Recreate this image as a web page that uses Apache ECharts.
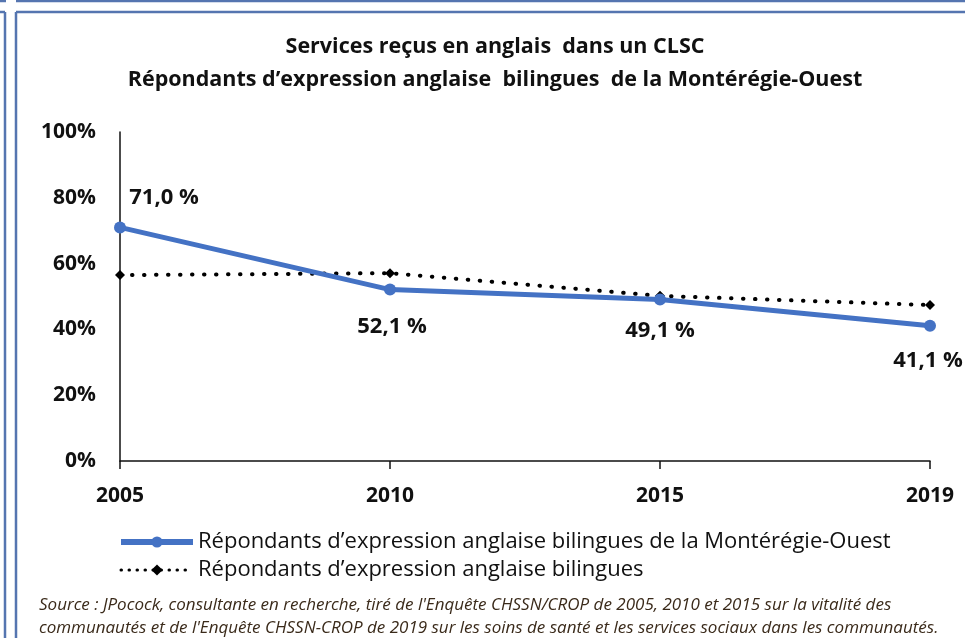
<!DOCTYPE html>
<html>
<head>
<meta charset="utf-8">
<script src="https://cdn.jsdelivr.net/npm/echarts@6/dist/echarts.min.js"></script>
<style>
html,body{margin:0;padding:0;background:#fff;}
#chart{width:965px;height:638px;}
</style>
</head>
<body>
<div id="chart"></div>
<script>
var categories = ['2005', '2010', '2015', '2019'];
var monteregieValues = [71.0, 52.1, 49.1, 41.1];
var bilingualValues = [56.5, 57.1, 50.2, 47.4];
var yTickLabels = ['0%', '20%', '40%', '60%', '80%', '100%'];
var dataLabels = ['71,0 %', '52,1 %', '49,1 %', '41,1 %'];
var seriesNames = [
  'Répondants d\u2019expression anglaise bilingues de la Montérégie-Ouest',
  'Répondants d\u2019expression anglaise bilingues'
];
var titleLines = [
  'Services reçus en anglais  dans un CLSC',
  'Répondants d\u2019expression anglaise  bilingues  de la Montérégie-Ouest'
];
var sourceLines = [
  'Source : JPocock, consultante en recherche, tiré de l\'Enquête CHSSN/CROP de 2005, 2010 et 2015 sur la vitalité des',
  'communautés et de l\'Enquête CHSSN-CROP de 2019 sur les soins de santé et les services sociaux dans les communautés.'
];

var FONT = '"Open Sans", Lato, sans-serif';
var labelOffsets = [[44, -8], [2, 15], [0, 9], [-2, 13]];
var labelPositions = ['top', 'bottom', 'bottom', 'bottom'];

var chart = echarts.init(document.getElementById('chart'));
var frameColor = '#5575b0';

chart.setOption({
  backgroundColor: '#ffffff',
  animation: false,
  textStyle: { fontFamily: FONT },
  title: [
    {
      text: titleLines.join('\n'),
      left: 490, top: 25, textAlign: 'center',
      textStyle: { fontFamily: FONT, fontSize: 21.5, fontWeight: 'bold', color: '#111', lineHeight: 33 }
    },
    {
      text: sourceLines.join('\n'),
      left: 34, top: 589,
      textStyle: { fontFamily: FONT, fontSize: 17, fontStyle: 'italic', fontWeight: 'normal', color: '#3a2a1a', lineHeight: 23 }
    }
  ],
  legend: {
    orient: 'vertical',
    left: 113, top: 526,
    itemWidth: 72, itemHeight: 14, itemGap: 6,
    textStyle: { fontFamily: FONT, fontSize: 22, color: '#111' },
    data: [
      { name: seriesNames[0], lineStyle: { width: 6 } },
      { name: seriesNames[1], lineStyle: { width: 3, type: [0.5, 7.5], cap: 'round' } }
    ]
  },
  grid: { left: 120, right: 35, top: 132, bottom: 177, containLabel: false },
  xAxis: {
    type: 'category',
    data: categories,
    boundaryGap: false,
    axisLine: { lineStyle: { color: '#111', width: 1.5 } },
    axisTick: { show: true, length: 8, lineStyle: { color: '#111', width: 1.5 } },
    axisLabel: { fontFamily: FONT, fontSize: 21, fontWeight: 'bold', color: '#111', margin: 25 }
  },
  yAxis: {
    type: 'value',
    min: 0, max: 100, interval: 20,
    axisLine: { show: true, lineStyle: { color: '#111', width: 1.5 } },
    axisTick: { show: false },
    splitLine: { show: false },
    axisLabel: {
      fontFamily: FONT, fontSize: 21, fontWeight: 'bold', color: '#111', margin: 24,
      formatter: function (v) { return yTickLabels[Math.round(v / 20)]; }
    }
  },
  series: [
    {
      name: seriesNames[1],
      type: 'line',
      data: bilingualValues,
      symbol: 'diamond', symbolSize: 10,
      itemStyle: { color: '#000' },
      lineStyle: { color: '#000', width: 4, type: [0.5, 11.5], cap: 'round' },
      z: 2
    },
    {
      name: seriesNames[0],
      type: 'line',
      data: monteregieValues.map(function (v, i) {
        return {
          value: v,
          label: { show: true, position: labelPositions[i], offset: labelOffsets[i], formatter: dataLabels[i] }
        };
      }),
      symbol: 'circle', symbolSize: 12,
      itemStyle: { color: '#4472c4' },
      lineStyle: { color: '#4472c4', width: 5 },
      label: { fontFamily: FONT, fontSize: 22, fontWeight: 'bold', color: '#111' },
      z: 3
    }
  ],
  graphic: [
    { type: 'line', shape: { x1: 0, y1: 1, x2: 6, y2: 1 }, style: { stroke: frameColor, lineWidth: 2.5 } },
    { type: 'line', shape: { x1: 16, y1: 1, x2: 965, y2: 1 }, style: { stroke: frameColor, lineWidth: 2.5 } },
    { type: 'line', shape: { x1: 0, y1: 12, x2: 5, y2: 12 }, style: { stroke: frameColor, lineWidth: 2.5 } },
    { type: 'line', shape: { x1: 5, y1: 12, x2: 5, y2: 638 }, style: { stroke: frameColor, lineWidth: 2.5 } },
    { type: 'line', shape: { x1: 16, y1: 12, x2: 965, y2: 12 }, style: { stroke: frameColor, lineWidth: 2.5 } },
    { type: 'line', shape: { x1: 16, y1: 12, x2: 16, y2: 638 }, style: { stroke: frameColor, lineWidth: 2.5 } }
  ]
});
</script>
</body>
</html>
